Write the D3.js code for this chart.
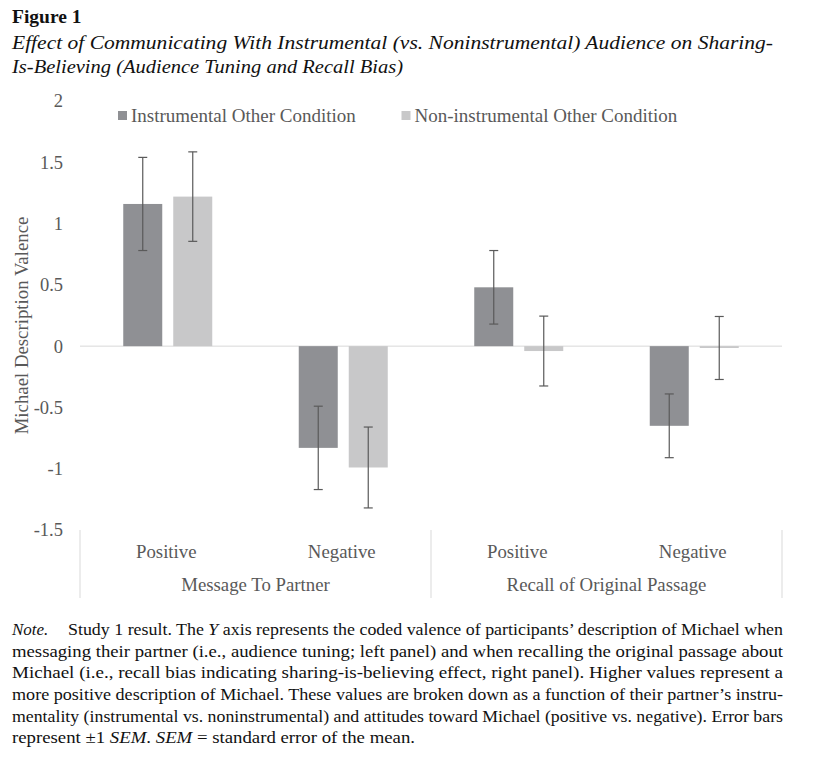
<!DOCTYPE html>
<html>
<head>
<meta charset="utf-8">
<script src="https://cdn.jsdelivr.net/npm/d3@7"></script>
<style>
  html, body { margin: 0; padding: 0; background: #fff; }
  svg { display: block; font-family: "Liberation Serif", "Times New Roman", serif; }
</style>
</head>
<body>
<svg id="chart" width="837" height="762"></svg>
<script>
// ---- data ----
const categories = ["Positive", "Negative", "Positive", "Negative"];
const groups = ["Message To Partner", "Recall of Original Passage"];
const series = ["Instrumental Other Condition", "Non-instrumental Other Condition"];
const instrumentalMeans = [1.16, -0.83, 0.48, -0.65];
const instrumentalSEM = [0.38, 0.34, 0.30, 0.26];
const noninstrumentalMeans = [1.22, -0.99, -0.04, -0.015];
const noninstrumentalSEM = [0.365, 0.33, 0.285, 0.257];
const yTicks = [2, 1.5, 1, 0.5, 0, -0.5, -1, -1.5];
const colors = ["#8f9094", "#c8c8c9"];

const svg = d3.select("#chart");
const textColor = "#595959";

// ---- title ----
svg.append("text").attr("x", 12).attr("y", 23)
  .attr("font-size", 19.5).attr("font-weight", "bold").attr("fill", "#111")
  .text("Figure 1");
svg.append("text").attr("x", 12).attr("y", 49)
  .attr("font-size", 19.5).attr("font-style", "italic").attr("fill", "#111")
  .attr("textLength", 761).attr("lengthAdjust", "spacingAndGlyphs")
  .text("Effect of Communicating With Instrumental (vs. Noninstrumental) Audience on Sharing-");
svg.append("text").attr("x", 12).attr("y", 73)
  .attr("font-size", 19.5).attr("font-style", "italic").attr("fill", "#111")
  .attr("textLength", 391).attr("lengthAdjust", "spacingAndGlyphs")
  .text("Is-Believing (Audience Tuning and Recall Bias)");

// ---- scales ----
const x = d3.scaleBand().domain(d3.range(categories.length)).range([80, 782]).padding(0);
const xs = d3.scaleBand().domain(d3.range(series.length)).range([0, x.bandwidth()])
  .paddingInner(0.22).paddingOuter(0.865);
const y = d3.scaleLinear().domain([-1.5, 2]).range([530, 101]);

// ---- y axis ----
const yAxis = svg.append("g").attr("transform", "translate(80,0)")
  .call(d3.axisLeft(y).tickValues(yTicks).tickSize(0).tickPadding(17).tickFormat(d => String(d)));
yAxis.select(".domain").remove();
yAxis.selectAll("text").attr("font-size", 18.5).attr("fill", textColor)
  .attr("font-family", "Liberation Serif, serif");

svg.append("text")
  .attr("transform", `translate(28,${(y(2) + y(-1.5)) / 2 + 10}) rotate(-90)`)
  .attr("text-anchor", "middle").attr("font-size", 18.8).attr("fill", textColor)
  .text("Michael Description Valence");

// ---- zero line ----
svg.append("line").attr("x1", 80).attr("x2", 782).attr("y1", y(0)).attr("y2", y(0))
  .attr("stroke", "#d9d9d9").attr("stroke-width", 1);

// ---- bars ----
const data = [];
categories.forEach((c, i) => {
  data.push({ i, s: 0, v: instrumentalMeans[i], e: instrumentalSEM[i] });
  data.push({ i, s: 1, v: noninstrumentalMeans[i], e: noninstrumentalSEM[i] });
});
svg.append("g").selectAll("rect").data(data).join("rect")
  .attr("x", d => x(d.i) + xs(d.s))
  .attr("width", xs.bandwidth())
  .attr("y", d => y(Math.max(0, d.v)))
  .attr("height", d => Math.abs(y(d.v) - y(0)))
  .attr("fill", d => colors[d.s]);

// ---- error bars ----
const eg = svg.append("g").attr("stroke", "#5a5a5a").attr("stroke-width", 1.2);
data.forEach(d => {
  const cx = x(d.i) + xs(d.s) + xs.bandwidth() / 2;
  const y1 = y(d.v + d.e), y2 = y(d.v - d.e);
  eg.append("line").attr("x1", cx).attr("x2", cx).attr("y1", y1).attr("y2", y2);
  eg.append("line").attr("x1", cx - 4.5).attr("x2", cx + 4.5).attr("y1", y1).attr("y2", y1);
  eg.append("line").attr("x1", cx - 4.5).attr("x2", cx + 4.5).attr("y1", y2).attr("y2", y2);
});

// ---- category axis ----
const sepX = [x(0), x(2), x(3) + x.bandwidth()];
svg.append("g").selectAll("line").data(sepX).join("line")
  .attr("x1", d => d).attr("x2", d => d).attr("y1", 530).attr("y2", 598)
  .attr("stroke", "#d9d9d9").attr("stroke-width", 1);
svg.append("g").selectAll("text").data(categories).join("text")
  .attr("x", (d, i) => x(i) + x.bandwidth() / 2 - 1.5).attr("y", 558)
  .attr("text-anchor", "middle").attr("font-size", 18.8).attr("fill", textColor)
  .text(d => d);
svg.append("g").selectAll("text").data(groups).join("text")
  .attr("x", (d, i) => (x(i * 2) + x(i * 2 + 1) + x.bandwidth()) / 2).attr("y", 591)
  .attr("text-anchor", "middle").attr("font-size", 18.8).attr("fill", textColor)
  .text(d => d);

// ---- legend ----
const legX = [118, 401.5];
const lg = svg.append("g").selectAll("g").data(series).join("g")
  .attr("transform", (d, i) => `translate(${legX[i]},111)`);
lg.append("rect").attr("width", 9).attr("height", 9).attr("fill", (d, i) => colors[i]);
lg.append("text").attr("x", 13).attr("y", 11).attr("font-size", 19).attr("fill", textColor)
  .text(d => d);

// ---- note ----
const noteFS = 17;
const note = svg.append("g").attr("fill", "#111").attr("font-size", noteFS);
note.append("text").attr("x", 12).attr("y", 635).attr("font-style", "italic").text("Note.");
const l1 = note.append("text").attr("x", 68).attr("y", 635)
  .attr("textLength", 715).attr("lengthAdjust", "spacingAndGlyphs");
l1.append("tspan").text("Study 1 result. The ");
l1.append("tspan").attr("font-style", "italic").text("Y");
l1.append("tspan").text(" axis represents the coded valence of participants\u2019 description of Michael when");
const lines = [
  "messaging their partner (i.e., audience tuning; left panel) and when recalling the original passage about",
  "Michael (i.e., recall bias indicating sharing-is-believing effect, right panel). Higher values represent a",
  "more positive description of Michael. These values are broken down as a function of their partner\u2019s instru-",
  "mentality (instrumental vs. noninstrumental) and attitudes toward Michael (positive vs. negative). Error bars"
];
const baselines = [656.7, 678.3, 700, 721.6];
lines.forEach((t, i) => {
  note.append("text").attr("x", 12).attr("y", baselines[i])
    .attr("textLength", 771).attr("lengthAdjust", "spacingAndGlyphs").text(t);
});
const l6 = note.append("text").attr("x", 12).attr("y", 743.2)
  .attr("textLength", 403).attr("lengthAdjust", "spacingAndGlyphs");
l6.append("tspan").text("represent \u00b11 ");
l6.append("tspan").attr("font-style", "italic").text("SEM");
l6.append("tspan").text(". ");
l6.append("tspan").attr("font-style", "italic").text("SEM");
l6.append("tspan").text(" = standard error of the mean.");
</script>
</body>
</html>
